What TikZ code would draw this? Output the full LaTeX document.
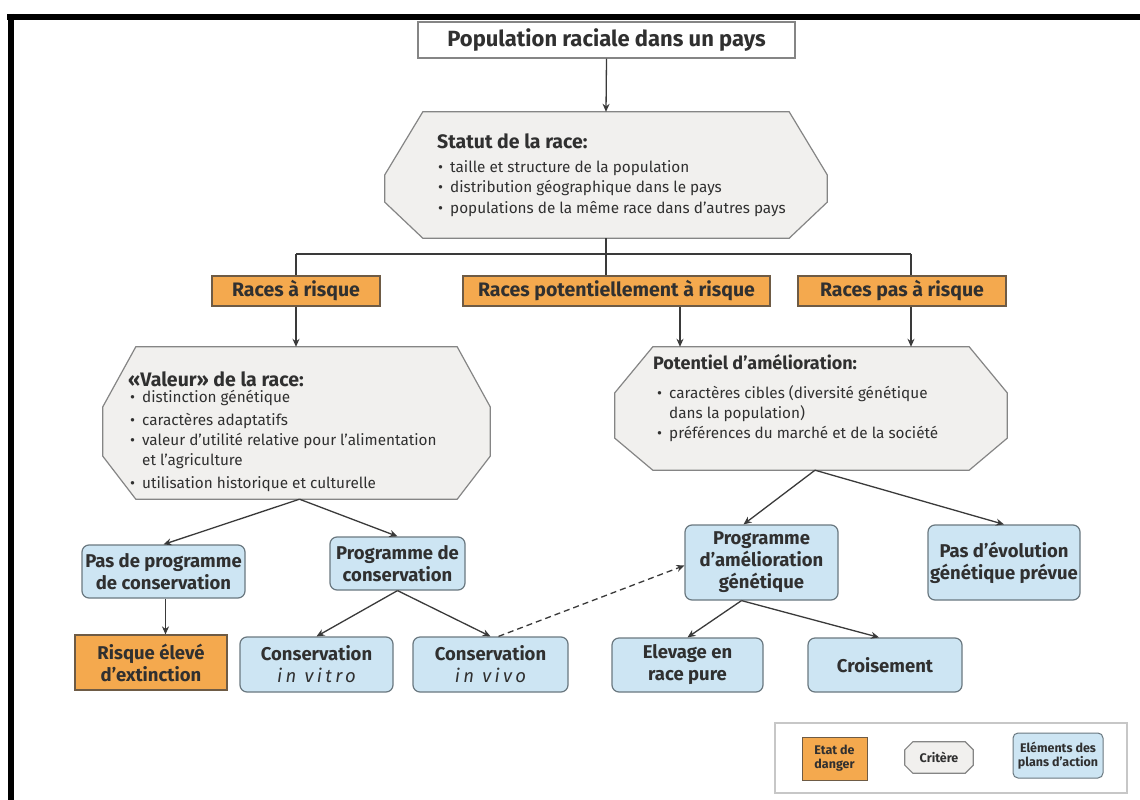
\documentclass[tikz,border=0pt]{standalone}
\usepackage{fontspec}
\setmainfont{Fira Sans}
\usetikzlibrary{arrows.meta,calc}
\definecolor{orng}{HTML}{F4A94E}
\definecolor{orngb}{HTML}{6E5B45}
\definecolor{blu}{HTML}{CDE5F3}
\definecolor{blub}{HTML}{6A7880}
\definecolor{octf}{HTML}{F1F0EE}
\definecolor{octb}{HTML}{858585}
\definecolor{txt}{HTML}{303030}
\definecolor{arrc}{HTML}{3A3A3A}
\newcommand\octa[4]{\draw[octs] ([xshift=#2]#1.north west) -- ([xshift=-#2]#1.north east) -- ([yshift=-#3]#1.north east) -- ([yshift=#4]#1.south east) -- ([xshift=-#2]#1.south east) -- ([xshift=#2]#1.south west) -- ([yshift=#4]#1.south west) -- ([yshift=-#3]#1.north west) -- cycle;}
\newcommand\bul{\makebox[12pt][l]{•}}
\begin{document}
\begin{tikzpicture}[x=1pt,y=-1pt,
  box/.style={line width=1.2pt, inner sep=0pt, align=center, text=txt,
    font=\fontsize{18.5}{22}\selectfont\bfseries},
  orange/.style={box, fill=orng, draw=orngb},
  obox/.style={orange, font=\fontsize{19.5}{22}\selectfont\bfseries},
  blue/.style={box, fill=blu, draw=blub, rounded corners=7pt},
  octs/.style={fill=octf, draw=octb, line width=1.2pt},
  ghost/.style={inner sep=0pt, draw=none},
  ttl/.style={anchor=base west, inner sep=0pt, text=txt, font=\fontsize{19.5}{22}\selectfont\bfseries},
  itm/.style={anchor=base west, inner sep=0pt, text=txt, font=\fontsize{15.3}{17}\selectfont},
  arr/.style={draw=arrc, line width=1.3pt, -{Stealth[length=8pt,width=7pt]}},
  ln/.style={draw=arrc, line width=1.3pt},
  lg/.style={line width=1pt, inner sep=0pt, align=center, text=txt,
    font=\fontsize{12.5}{14}\selectfont\bfseries}]
\useasboundingbox (0,0) rectangle (1140,800);
\fill[white] (0,0) rectangle (1140,800);
% frame
\draw[line width=6pt] (7,17) -- (1140,17);
\draw[line width=6pt] (11,14) -- (11,800);

% title
\node[box, fill=white, draw=octb, minimum width=377pt, minimum height=36pt,
  font=\fontsize{22}{24}\selectfont\bfseries] (tbox) at (606.5,40) {Population raciale dans un pays};

% Statut octagon
\node[ghost, minimum width=442pt, minimum height=126pt] (stat) at (606,175) {};
\octa{stat}{38pt}{63pt}{36pt}
\node[ttl] (st0) at (437,148) {Statut de la race:};
\node[itm] (st1) at (438,172) {\bul taille et structure de la population};
\node[itm] (st2) at (438,192) {\bul distribution géographique dans le pays};
\node[itm] (st3) at (438,213) {\bul populations de la même race dans d’autres pays};

% orange boxes
\node[obox, minimum width=168pt, minimum height=30pt] (rr) at (296,291) {Races à risque};
\node[obox, minimum width=307pt, minimum height=30pt] (rpr) at (616.5,291) {Races potentiellement à risque};
\node[obox, minimum width=208pt, minimum height=30pt] (rpa) at (902,291) {Races pas à risque};

\coordinate (hL) at (296,254);
\coordinate (hR) at (911,254);
\coordinate (c680) at (680,0);
\draw[arr] (tbox.south) -- (stat.north);
\draw[ln] (stat.south) -- (rpr.north -| stat.south);
\draw[ln] (hL) -- (hR);
\draw[ln] (hL) -- (rr.north);
\draw[ln] (hR) -- (hR |- rpa.north);

% Valeur octagon
\node[ghost, minimum width=387pt, minimum height=152pt] (val) at (296.5,423) {};
\octa{val}{33pt}{60pt}{43pt}
\node[ttl] (va0) at (128,386) {«Valeur» de la race:};
\node[itm] (va1) at (130,402) {\bul distinction génétique};
\node[itm] (va2) at (130,425) {\bul caractères adaptatifs};
\node[itm] (va3) at (130,445) {\bul valeur d’utilité relative pour l’alimentation};
\node[itm] (va4) at (142,465) {et l’agriculture};
\node[itm] (va5) at (130,488) {\bul utilisation historique et culturelle};

% Potentiel octagon
\node[ghost, minimum width=392pt, minimum height=123pt] (pot) at (811,408.5) {};
\octa{pot}{38pt}{46pt}{32pt}
\node[ttl, font=\fontsize{18}{20}\selectfont\bfseries] (po0) at (653,369) {Potentiel d’amélioration:};
\node[itm] (po1) at (657,398) {\bul caractères cibles (diversité génétique};
\node[itm] (po2) at (669,418) {dans la population)};
\node[itm] (po3) at (657,438) {\bul préférences du marché et de la société};

\draw[arr] (rr.south) -- (val.north -| rr.south);
\draw[arr] (rpr.south -| c680) -- (pot.north -| c680);
\draw[arr] (rpa.south -| hR) -- (pot.north -| hR);

% blue boxes left
\node[blue, minimum width=163pt, minimum height=53pt] (npc) at (163.5,571.5) {Pas de programme\\de conservation};
\node[blue, minimum width=135pt, minimum height=53pt] (pc) at (397.5,563.5) {Programme de\\conservation};
\node[orange, minimum width=152pt, minimum height=55pt] (rext) at (151,662.5) {Risque élevé\\d’extinction};
\node[blue, minimum width=153pt, minimum height=55pt] (cvt) at (316.5,664.5) {Conservation\\{\mdseries\itshape\addfontfeature{LetterSpace=18}in vitro}};
\node[blue, minimum width=155pt, minimum height=55pt] (cvv) at (490.5,664.5) {Conservation\\{\mdseries\itshape\addfontfeature{LetterSpace=18}in vivo}};

% blue boxes right
\node[blue, minimum width=153pt, minimum height=75pt] (pam) at (761.5,562.5) {Programme\\d’amélioration\\génétique};
\node[blue, minimum width=152pt, minimum height=75pt] (ped) at (1004,562.5) {Pas d’évolution\\génétique prévue};
\node[blue, minimum width=151pt, minimum height=54pt] (elev) at (687.5,665) {Elevage en\\race pure};
\node[blue, minimum width=154pt, minimum height=54pt] (crois) at (885,665) {Croisement};

\draw[arr] ([xshift=3pt]val.south) -- (npc.north);
\draw[arr] ([xshift=3pt]val.south) -- (pc.north);
\draw[arr] ([xshift=2pt]npc.south) -- ([xshift=2pt]npc.south |- rext.north);
\draw[arr] (pc.south) -- (cvt.north);
\draw[arr] (pc.south) -- (cvv.north);
\draw[arr, dashed, dash pattern=on 6pt off 4pt] ([xshift=8pt]cvv.north) -- ([yshift=-3pt]pam.west);

\draw[arr] ([xshift=4pt]pot.south) -- ([xshift=-18pt]pam.north);
\draw[arr] ([xshift=4pt]pot.south) -- (ped.north);
\draw[arr] ([xshift=-20pt]pam.south) -- (elev.north);
\draw[arr] ([xshift=-20pt]pam.south) -- ([xshift=-6pt]crois.north);

% legend
\node[draw=black!22, line width=1.5pt, minimum width=352pt, minimum height=70pt, inner sep=0pt] (leg) at (951,758) {};
\node[lg, fill=orng, draw=orngb, minimum width=65pt, minimum height=43pt] (le1) at (834.5,758.5) {Etat de\\danger};
\node[ghost, minimum width=68pt, minimum height=31pt] (le2) at (939,757.5) {};
\octa{le2}{8pt}{8pt}{8pt}
\node[lg, inner sep=0pt] (le2t) at (le2) {Critère};
\node[lg, fill=blu, draw=blub, rounded corners=5pt, minimum width=90pt, minimum height=45pt] (le3) at (1058,755.5) {Eléments des\\plans d’action};
\end{tikzpicture}
\end{document}
